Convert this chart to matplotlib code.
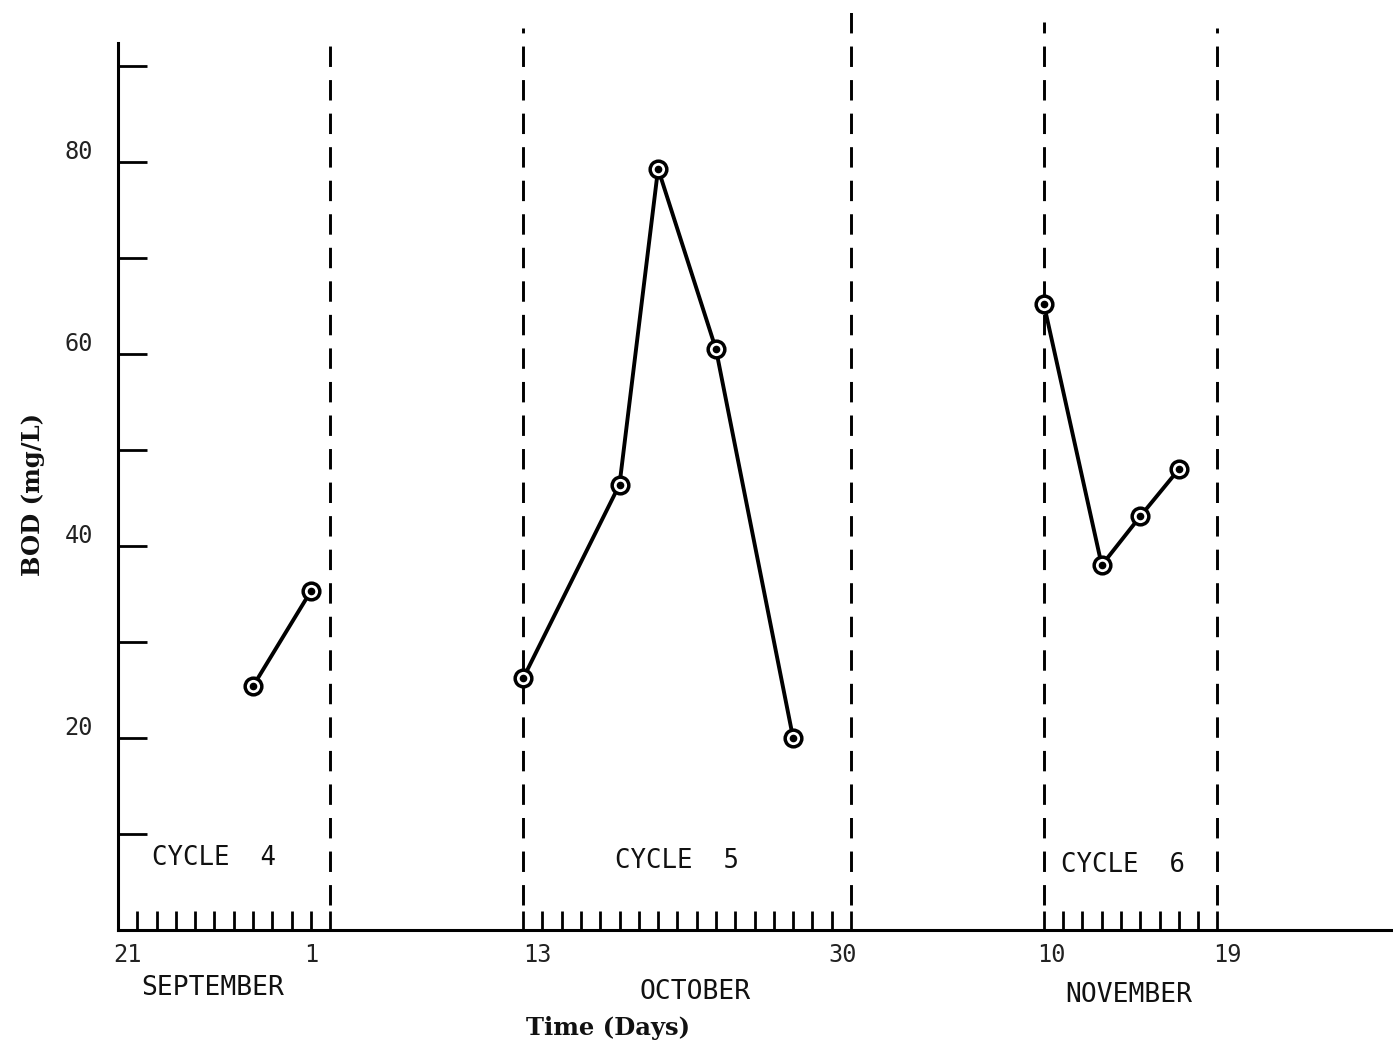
import matplotlib
matplotlib.use("Agg")
import matplotlib.pyplot as plt
import numpy as np

# BOD readings per treatment cycle (days counted from the cycle's first axis date)
cycle4_days = [7, 10]
cycle4_bod = [25.4, 35.3]
cycle5_days = [0, 5, 7, 10, 14]
cycle5_bod = [26.2, 46.4, 79.3, 60.5, 20.0]
cycle6_days = [0, 3, 5, 7]
cycle6_bod = [65.2, 38.0, 43.1, 48.0]

# broken time axis: each segment has its own origin on the plot
segment_start = [0, 21, 48]          # plot position of first date in each segment
segment_ndays = [11, 17, 9]          # number of day ticks after the first date
months = ["SEPTEMBER", "OCTOBER", "NOVEMBER"]
cycle_names = ["CYCLE 4", "CYCLE 5", "CYCLE 6"]
day_labels = ["21", "1", "13", "30", "10", "19"]
day_label_pos = [0, 10, 21, 38, 48, 57]
cycle_bounds = [11, 21, 38, 48, 57]
bound_tops = [93.1, 94.0, 95.8, 94.6, 94.0]

y_ticks = list(range(10, 100, 10))
y_labels = ["20", "40", "60", "80"]

fig = plt.figure(figsize=(13.93, 10.46), dpi=100)
ax = fig.add_axes([0.0847, 0.1109, 0.9153, 0.848])
ax.set_xlim(0, 66.1)
ax.set_ylim(0, 92.4)

for s in ["top", "right"]:
    ax.spines[s].set_visible(False)
for s in ["left", "bottom"]:
    ax.spines[s].set_linewidth(2.2)

mono = "DejaVu Sans Mono"
serif = "DejaVu Serif"

# y ticks, inward, labels only on 20/40/60/80
ax.set_yticks(y_ticks)
ax.set_yticklabels([])
ax.tick_params(axis="y", direction="in", length=21, width=2.0)
for lab in y_labels:
    ax.text(-1.3, float(lab) + 1.0, lab, ha="right", va="center",
            fontsize=17, family=mono, color="#222")

# x ticks: one per day inside each segment
xt = []
for start, n in zip(segment_start, segment_ndays):
    xt.extend(start + np.arange(0, n + 1))
ax.set_xticks(xt)
ax.set_xticklabels([])
ax.tick_params(axis="x", direction="in", length=14, width=2.0)

nudge = [0.5, 0.0, 0.75, -0.45, 0.4, 0.5]
for lab, p, d in zip(day_labels, day_label_pos, nudge):
    ax.text(p + d, -2.6, lab, ha="center", va="center",
            fontsize=17, family=mono, color="#222")

month_x = [4.9, 29.9, 52.4]
month_y = [-6.0, -6.5, -6.8]
for m, mx, my in zip(months, month_x, month_y):
    ax.text(mx, my, m, ha="center", va="center", fontsize=19,
            family=mono, color="#111")

cyc_x = [5.0, 29.0, 52.1]
cyc_y = [7.5, 7.2, 6.8]
for c, cx, cy in zip(cycle_names, cyc_x, cyc_y):
    ax.text(cx, cy, c.replace(" ", "  "), ha="center", va="center",
            fontsize=18.5, family=mono, color="#111")

# cycle boundaries
for xb, top in zip(cycle_bounds, bound_tops):
    ax.plot([xb, xb], [2.6, top], color="black", lw=2.1,
            linestyle=(0, (7, 4.5)), clip_on=False, zorder=2)

# data series
for start, days, bod in [(segment_start[0], cycle4_days, cycle4_bod),
                         (segment_start[1], cycle5_days, cycle5_bod),
                         (segment_start[2], cycle6_days, cycle6_bod)]:
    x = [start + d for d in days]
    ax.plot(x, bod, color="black", lw=2.8, zorder=3, solid_capstyle="round")
    ax.plot(x, bod, linestyle="none", marker="o", ms=12, mfc="white",
            mec="black", mew=2.5, zorder=4)
    ax.plot(x, bod, linestyle="none", marker="o", ms=4.5, color="black",
            zorder=5)

ax.text(25.4, -10.2, "Time (Days)", ha="center", va="center",
        fontsize=17.5, family=serif, weight="bold", color="#111")
ax.text(-4.4, 45.4, "BOD (mg/L)", ha="center", va="center", rotation=90,
        fontsize=17.5, family=serif, weight="bold", color="#111")

fig.savefig("out.png", dpi=100)
